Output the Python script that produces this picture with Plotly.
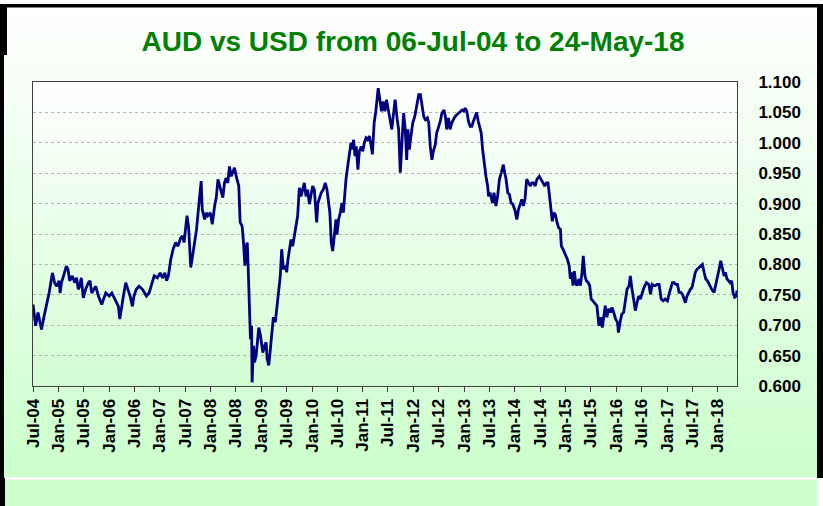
import plotly.graph_objects as go

# ---------------- data ----------------
dates = [
"2004-07-06","2004-07-25","2004-08-11","2004-09-05","2004-09-24","2004-10-18","2004-10-30","2004-11-23","2004-12-08","2004-12-24",
"2005-01-10","2005-01-17","2005-01-27","2005-02-11","2005-03-03","2005-03-15","2005-03-27","2005-04-15","2005-05-02","2005-05-16",
"2005-05-28","2005-06-07","2005-06-19","2005-07-03","2005-07-20","2005-08-09","2005-08-21","2005-09-02","2005-09-19","2005-10-01",
"2005-10-20","2005-11-13","2005-11-25","2005-12-12","2006-01-06","2006-01-25","2006-02-11","2006-02-28","2006-03-13","2006-03-23",
"2006-04-04","2006-04-18","2006-05-05","2006-05-22","2006-06-05","2006-06-22","2006-07-03","2006-07-20","2006-08-09","2006-09-02",
"2006-10-01","2006-10-20","2006-11-09","2006-11-26","2006-12-19","2007-01-08","2007-01-25","2007-02-11","2007-02-23","2007-03-08",
"2007-03-25","2007-04-11","2007-04-30","2007-05-16","2007-06-05","2007-06-17","2007-06-29","2007-07-20","2007-08-01","2007-08-16",
"2007-08-30","2007-09-13","2007-09-27","2007-10-10","2007-10-18","2007-10-30","2007-11-07","2007-11-24","2007-12-06","2007-12-17",
"2008-01-04","2008-01-18","2008-02-04","2008-02-16","2008-02-28","2008-03-10","2008-03-22","2008-04-03","2008-04-15","2008-04-27",
"2008-05-09","2008-05-21","2008-06-02","2008-06-14","2008-06-26","2008-07-08","2008-07-27","2008-08-06","2008-08-20","2008-08-30",
"2008-09-09","2008-09-19","2008-09-26","2008-10-03","2008-10-12","2008-10-19","2008-10-27","2008-10-31","2008-11-10","2008-11-17",
"2008-11-29","2008-12-11","2008-12-18","2008-12-30","2009-01-16","2009-01-28","2009-02-09","2009-02-16","2009-02-28","2009-03-09",
"2009-03-23","2009-04-02","2009-04-16","2009-04-28","2009-05-10","2009-05-22","2009-06-01","2009-06-13","2009-06-27","2009-07-07",
"2009-07-16","2009-07-26","2009-08-07","2009-08-19","2009-08-31","2009-09-12","2009-09-24","2009-10-06","2009-10-18","2009-10-30",
"2009-11-11","2009-11-23","2009-12-05","2009-12-17","2009-12-29","2010-01-10","2010-01-22","2010-02-03","2010-02-08","2010-02-17",
"2010-03-03","2010-03-13","2010-03-27","2010-04-11","2010-04-23","2010-05-05","2010-05-14","2010-05-24","2010-06-03","2010-06-10",
"2010-06-19","2010-06-27","2010-07-04","2010-07-16","2010-07-28","2010-08-09","2010-08-19","2010-08-28","2010-09-07","2010-09-19",
"2010-10-01","2010-10-13","2010-10-25","2010-11-01","2010-11-11","2010-11-20","2010-12-02","2010-12-12","2010-12-26","2011-01-06",
"2011-01-17","2011-01-29","2011-02-10","2011-02-22","2011-03-06","2011-03-16","2011-03-29","2011-04-10","2011-04-27","2011-05-09",
"2011-05-21","2011-06-02","2011-06-14","2011-06-26","2011-07-08","2011-07-20","2011-08-03","2011-08-13","2011-08-27","2011-09-11",
"2011-09-21","2011-10-03","2011-10-15","2011-10-27","2011-11-08","2011-11-18","2011-11-27","2011-12-07","2011-12-17","2012-01-01",
"2012-01-15","2012-01-30","2012-02-13","2012-02-25","2012-03-08","2012-03-20","2012-04-01","2012-04-15","2012-04-25","2012-05-06",
"2012-05-18","2012-05-28","2012-06-11","2012-06-21","2012-07-06","2012-07-17","2012-07-29","2012-08-13","2012-08-23","2012-09-01",
"2012-09-14","2012-09-26","2012-10-08","2012-10-19","2012-10-31","2012-11-13","2012-11-25","2012-12-07","2012-12-21","2013-01-02",
"2013-01-12","2013-01-24","2013-02-05","2013-02-17","2013-03-01","2013-03-12","2013-03-24","2013-04-05","2013-04-17","2013-04-29",
"2013-05-08","2013-05-18","2013-05-30","2013-06-11","2013-06-23","2013-06-30","2013-07-10","2013-07-19","2013-07-29","2013-08-08",
"2013-08-15","2013-08-22","2013-09-03","2013-09-16","2013-09-30","2013-10-14","2013-10-24","2013-11-03","2013-11-15","2013-11-27",
"2013-12-09","2013-12-21","2014-01-07","2014-01-19","2014-01-31","2014-02-12","2014-02-24","2014-03-07","2014-03-19","2014-03-31",
"2014-04-12","2014-04-27","2014-05-08","2014-05-20","2014-06-01","2014-06-13","2014-06-30","2014-07-15","2014-07-27","2014-08-08",
"2014-08-20","2014-09-01","2014-09-13","2014-09-25","2014-10-02","2014-10-12","2014-10-24","2014-11-05","2014-11-17","2014-11-29",
"2014-12-06","2014-12-18","2014-12-30","2015-01-11","2015-01-19","2015-01-31","2015-02-09","2015-02-19","2015-02-28","2015-03-10",
"2015-03-19","2015-03-28","2015-04-12","2015-04-22","2015-05-04","2015-05-13","2015-05-25","2015-06-04","2015-06-18","2015-06-28",
"2015-07-09","2015-07-21","2015-08-02","2015-08-19","2015-09-03","2015-09-15","2015-09-27","2015-10-09","2015-10-18","2015-10-30",
"2015-11-12","2015-11-24","2015-12-06","2015-12-18","2016-01-01","2016-01-14","2016-01-21","2016-02-02","2016-02-14","2016-02-28",
"2016-03-13","2016-03-23","2016-04-07","2016-04-16","2016-04-28","2016-05-10","2016-05-22","2016-06-03","2016-06-15","2016-06-27",
"2016-07-12","2016-07-23","2016-08-10","2016-08-27","2016-09-08","2016-09-20","2016-10-02","2016-10-14","2016-10-26","2016-11-09",
"2016-11-24","2016-12-08","2016-12-22","2017-01-08","2017-01-20","2017-02-01","2017-02-13","2017-02-25","2017-03-09","2017-03-21",
"2017-04-02","2017-04-14","2017-04-26","2017-05-08","2017-05-17","2017-05-29","2017-06-10","2017-06-22","2017-07-04","2017-07-16",
"2017-07-28","2017-08-09","2017-08-21","2017-09-05","2017-09-17","2017-09-29","2017-10-11","2017-10-23","2017-11-04","2017-11-16",
"2017-11-28","2017-12-10","2017-12-22","2018-01-03","2018-01-15","2018-01-27","2018-02-08","2018-02-20","2018-03-01","2018-03-13",
"2018-03-25","2018-04-04","2018-04-16","2018-04-25","2018-05-07","2018-05-19","2018-05-24",
]
aud_usd = [
0.734,0.699,0.721,0.693,0.715,0.737,0.753,0.786,0.770,0.764,
0.773,0.753,0.770,0.781,0.797,0.792,0.773,0.781,0.770,0.778,
0.759,0.764,0.778,0.745,0.759,0.770,0.773,0.753,0.759,0.764,
0.748,0.734,0.742,0.753,0.748,0.753,0.745,0.737,0.731,0.710,
0.731,0.748,0.770,0.759,0.748,0.731,0.748,0.759,0.764,0.759,
0.748,0.753,0.770,0.781,0.778,0.786,0.778,0.786,0.773,0.781,
0.808,0.825,0.836,0.830,0.844,0.847,0.836,0.880,0.860,0.795,
0.815,0.835,0.858,0.890,0.905,0.937,0.890,0.874,0.885,0.880,
0.885,0.866,0.896,0.910,0.940,0.929,0.918,0.910,0.934,0.942,
0.934,0.961,0.945,0.953,0.959,0.945,0.929,0.869,0.863,0.836,
0.798,0.830,0.836,0.792,0.705,0.677,0.699,0.606,0.666,0.639,
0.650,0.677,0.696,0.683,0.655,0.666,0.672,0.645,0.634,0.655,
0.688,0.713,0.705,0.732,0.765,0.781,0.825,0.792,0.798,0.787,
0.808,0.825,0.841,0.830,0.847,0.869,0.880,0.926,0.912,0.923,
0.934,0.912,0.923,0.899,0.918,0.929,0.923,0.885,0.869,0.901,
0.912,0.918,0.923,0.934,0.923,0.901,0.885,0.836,0.822,0.836,
0.863,0.874,0.849,0.874,0.885,0.901,0.885,0.912,0.940,0.961,
0.983,1.000,0.989,1.005,0.978,0.994,0.956,0.986,0.994,0.986,
1.000,1.008,1.005,1.011,0.997,0.981,1.033,1.052,1.090,1.071,
1.052,1.068,1.052,1.071,1.054,1.043,1.022,1.043,1.071,1.038,
1.022,0.951,1.005,1.049,1.022,0.972,1.022,0.989,1.008,1.033,
1.043,1.065,1.079,1.079,1.060,1.043,1.038,1.041,1.033,0.994,
0.972,0.986,0.997,1.016,1.027,1.035,1.049,1.054,1.043,1.022,
1.041,1.022,1.033,1.038,1.043,1.046,1.049,1.052,1.054,1.052,
1.057,1.052,1.035,1.027,1.027,1.035,1.043,1.050,1.035,1.022,
1.016,0.989,0.961,0.945,0.929,0.912,0.918,0.907,0.901,0.918,
0.901,0.896,0.912,0.940,0.951,0.964,0.951,0.940,0.918,0.915,
0.901,0.899,0.888,0.874,0.890,0.901,0.907,0.896,0.907,0.940,
0.934,0.929,0.934,0.934,0.929,0.940,0.945,0.940,0.934,0.929,
0.934,0.934,0.912,0.885,0.871,0.885,0.882,0.869,0.860,0.858,
0.830,0.825,0.819,0.814,0.808,0.798,0.776,0.787,0.765,0.789,
0.770,0.765,0.776,0.765,0.787,0.814,0.781,0.773,0.770,0.765,
0.743,0.740,0.737,0.732,0.699,0.713,0.696,0.721,0.732,0.713,
0.727,0.721,0.729,0.721,0.710,0.705,0.688,0.705,0.718,0.721,
0.743,0.759,0.765,0.781,0.759,0.737,0.724,0.737,0.748,0.743,
0.754,0.762,0.770,0.767,0.751,0.767,0.765,0.765,0.767,0.767,
0.743,0.740,0.743,0.740,0.751,0.759,0.770,0.770,0.767,0.767,
0.754,0.754,0.751,0.743,0.737,0.748,0.754,0.759,0.762,0.773,
0.787,0.792,0.795,0.798,0.800,0.787,0.776,0.773,0.767,0.762,
0.757,0.754,0.765,0.776,0.792,0.806,0.792,0.781,0.787,0.776,
0.773,0.770,0.773,0.754,0.746,0.748,0.757,
]
tick_dates = ["2004-07-06","2005-01-06","2005-07-06","2006-01-06","2006-07-06","2007-01-06","2007-07-06",
              "2008-01-06","2008-07-06","2009-01-06","2009-07-06","2010-01-06","2010-07-06","2011-01-06",
              "2011-07-06","2012-01-06","2012-07-06","2013-01-06","2013-07-06","2014-01-06","2014-07-06",
              "2015-01-06","2015-07-06","2016-01-06","2016-07-06","2017-01-06","2017-07-06","2018-01-06"]
tick_labels = ["Jul-04","Jan-05","Jul-05","Jan-06","Jul-06","Jan-07","Jul-07","Jan-08","Jul-08","Jan-09",
               "Jul-09","Jan-10","Jul-10","Jan-11","Jul-11","Jan-12","Jul-12","Jan-13","Jul-13","Jan-14",
               "Jul-14","Jan-15","Jul-15","Jan-16","Jul-16","Jan-17","Jul-17","Jan-18"]
y_ticks = [0.60, 0.65, 0.70, 0.75, 0.80, 0.85, 0.90, 0.95, 1.00, 1.05, 1.10]
y_labels = ["0.600","0.650","0.700","0.750","0.800","0.850","0.900","0.950","1.000","1.050","1.100"]

# ---------------- layout geometry ----------------
W, H = 823, 506
L, R, T, B = 33, 86, 82, 120
PW, PH = W - L - R, H - T - B

def px(x):
    return (x - L) / PW

def py(y):
    return (H - B - y) / PH

def mix(c0, c1, f):
    return "rgb(%d,%d,%d)" % tuple(round(a + (b - a) * f) for a, b in zip(c0, c1))

def rect(x0, x1, ya, yb, color, layer="below"):
    return dict(type="rect", xref="paper", yref="paper", layer=layer,
                x0=px(x0), x1=px(x1), y0=py(yb), y1=py(ya),
                fillcolor=color, line=dict(width=0))

shapes = []
# chart-area gradient (white -> light green)
n = 48
y0, y1 = 8, 478
for i in range(n):
    ya = y0 + (y1 - y0) * i / n
    yb = y0 + (y1 - y0) * (i + 1) / n + 0.6
    shapes.append(rect(4, 817, ya, yb, mix((255, 255, 255), (204, 255, 204), (i + 0.5) / n)))
# plot-area gradient
n2 = 40
for i in range(n2):
    ya = T + PH * i / n2
    yb = T + PH * (i + 1) / n2 + 0.6
    shapes.append(rect(L, W - R, ya, yb, mix((255, 255, 255), (210, 253, 210), (i + 0.5) / n2)))
# bottom strip and separator
shapes.append(rect(5, 817, 477, 506, "#ccffcc"))
shapes.append(rect(5, 817, 477, 479.5, "#ffffff"))
# black frame bits (drawn on top)
shapes.append(rect(0, 4, 4, 478, "#000000", "above"))
shapes.append(rect(0, 5, 478, 506, "#000000", "above"))
shapes.append(rect(0, 7, 4, 55, "#000000", "above"))
shapes.append(rect(0, 823, 4, 7.5, "#000000", "above"))
shapes.append(rect(817, 823, 4, 478, "#000000", "above"))

fig = go.Figure()
fig.add_trace(go.Scatter(x=dates, y=aud_usd, mode="lines",
                         line=dict(color="#000080", width=2.8), hoverinfo="x+y"))

FONT = "Liberation Sans, Arial, sans-serif"
fig.update_layout(
    width=W, height=H,
    margin=dict(l=L, r=R, t=T, b=B, pad=0),
    paper_bgcolor="#ffffff",
    plot_bgcolor="rgba(0,0,0,0)",
    showlegend=False,
    shapes=shapes,
    title=dict(text="AUD vs USD from 06-Jul-04 to 24-May-18",
               font=dict(family=FONT, size=28, color="#008000", weight="bold"),
               x=413 / W, xanchor="center", y=1 - 41 / H, yanchor="middle", xref="container", yref="container"),
    xaxis=dict(type="date", range=["2004-07-06", "2018-05-24"],
               tickmode="array", tickvals=tick_dates, ticktext=tick_labels,
               tickangle=-90, ticks="outside", ticklen=5, tickwidth=1, tickcolor="#404040",
               tickfont=dict(family=FONT, size=17, color="#000000", weight="bold"),
               showgrid=False, showline=True, linecolor="#404040", linewidth=1, mirror=True,
               zeroline=False, fixedrange=True),
    yaxis=dict(range=[0.6, 1.1], side="right", tickmode="array", tickvals=y_ticks, ticktext=y_labels,
               ticks="", ticklabelstandoff=17,
               tickfont=dict(family=FONT, size=17, color="#000000", weight="bold"),
               showgrid=True, gridcolor="#b4b4b4", gridwidth=1, griddash="dot",
               showline=True, linecolor="#404040", linewidth=1, mirror=True,
               zeroline=False, fixedrange=True),
)

fig.write_html("out.html", config={"displayModeBar": False, "staticPlot": True},
               post_script="document.body.style.margin='0';document.body.style.overflow='hidden';")
